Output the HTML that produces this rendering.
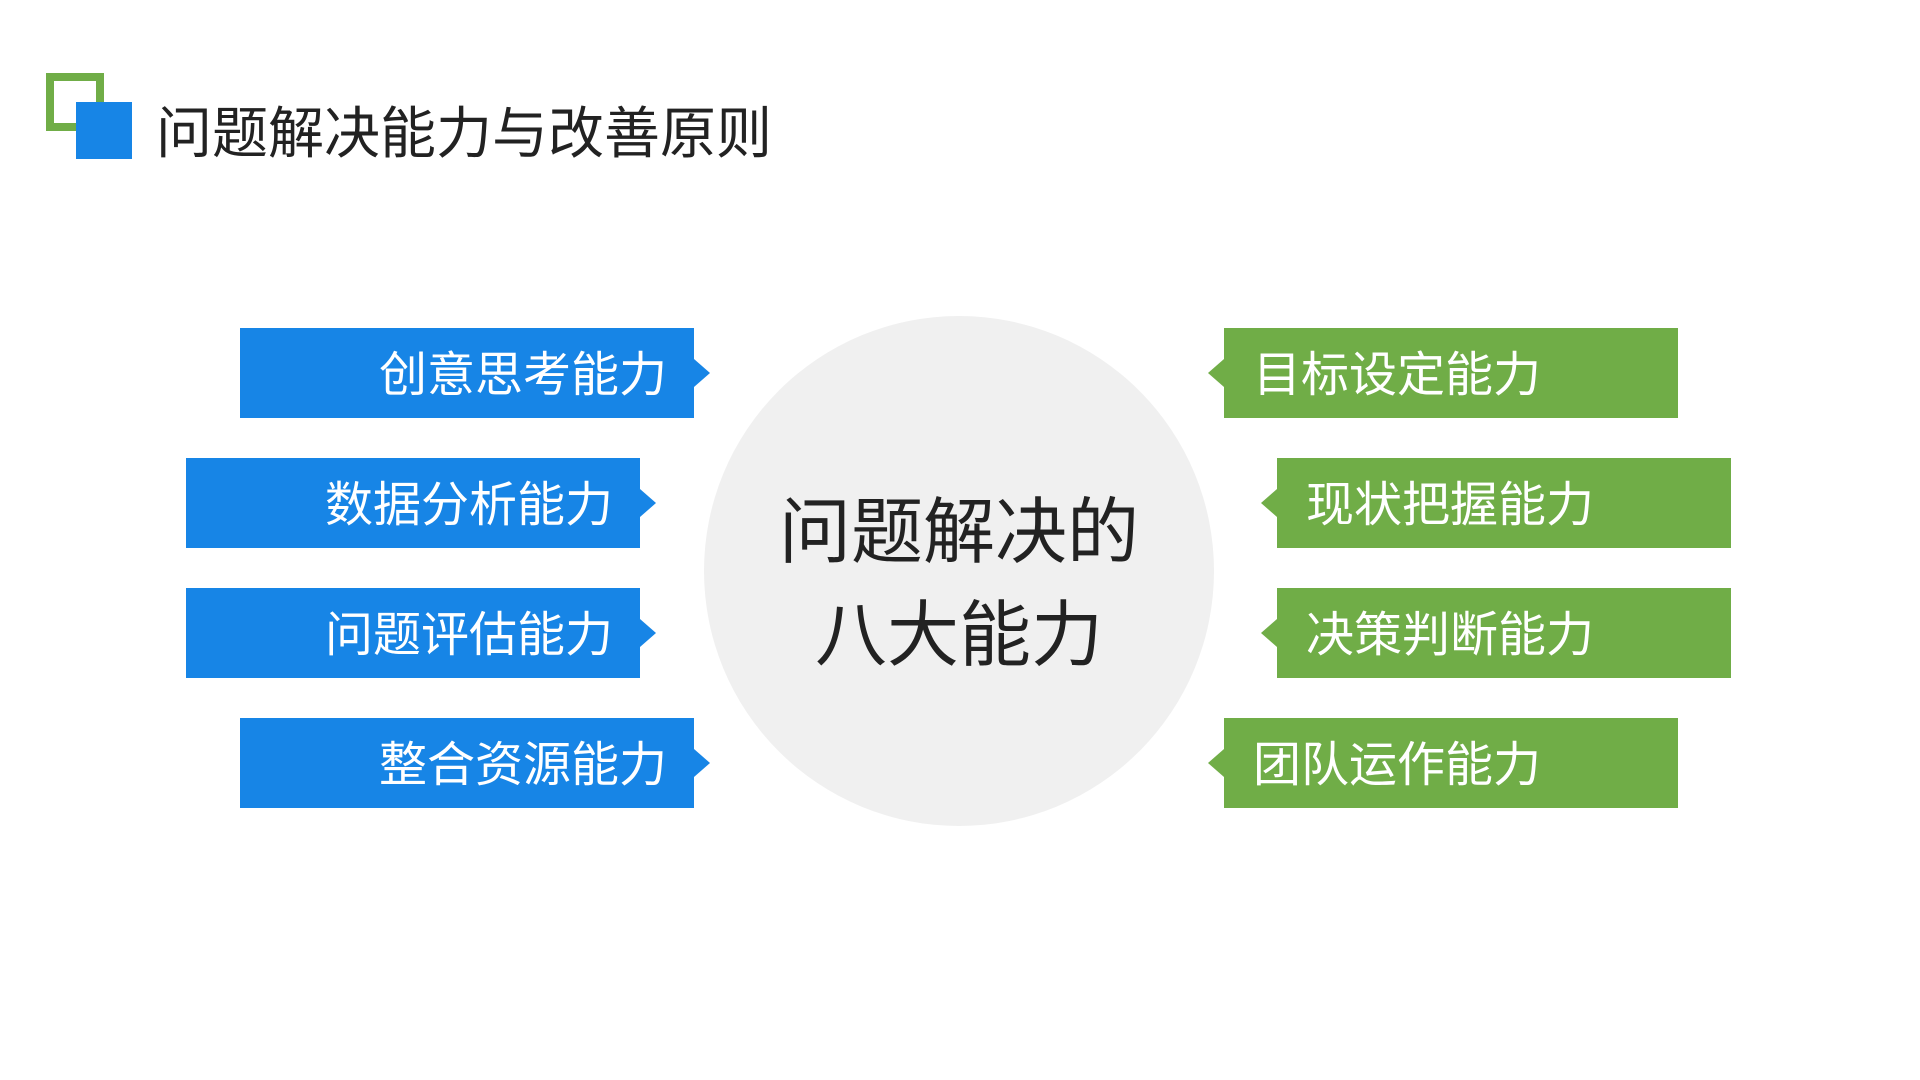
<!DOCTYPE html>
<html><head><meta charset="utf-8"><style>
*{margin:0;padding:0;box-sizing:border-box}
body{width:1920px;height:1080px;background:#fff;position:relative;overflow:hidden;font-family:"Liberation Sans","Noto Sans CJK SC",sans-serif}
.a{position:absolute}
.box{position:absolute;height:90px;color:#fff;font-size:48px;line-height:96px;white-space:nowrap}
.L{background:#1785e6;text-align:right;padding-right:27px}
.R{background:#70ad47;text-align:left;padding-left:29px}
.L::after{content:"";position:absolute;right:-16px;top:31px;border-left:16px solid #1785e6;border-top:14px solid transparent;border-bottom:14px solid transparent}
.R::before{content:"";position:absolute;left:-16px;top:31px;border-right:16px solid #70ad47;border-top:14px solid transparent;border-bottom:14px solid transparent}
</style></head><body>
<div class="a" style="left:46px;top:73px;width:58px;height:58px;border:8px solid #70ad47"></div>
<div class="a" style="left:76px;top:102px;width:56px;height:57px;background:#1785e6"></div>
<div class="a" style="left:156px;top:99px;font-size:56px;line-height:70px;color:#222;white-space:nowrap">问题解决能力与改善原则</div>
<div class="a" style="left:704px;top:316px;width:510px;height:510px;border-radius:50%;background:#f0f0f0"></div>
<div class="a" style="left:704px;top:482px;width:510px;text-align:center;font-size:72px;line-height:103px;color:#222">问题解决的<br>八大能力</div>
<div class="box L" style="left:240px;top:328px;width:454px">创意思考能力</div>
<div class="box L" style="left:186px;top:458px;width:454px">数据分析能力</div>
<div class="box L" style="left:186px;top:588px;width:454px">问题评估能力</div>
<div class="box L" style="left:240px;top:718px;width:454px">整合资源能力</div>
<div class="box R" style="left:1224px;top:328px;width:454px">目标设定能力</div>
<div class="box R" style="left:1277px;top:458px;width:454px">现状把握能力</div>
<div class="box R" style="left:1277px;top:588px;width:454px">决策判断能力</div>
<div class="box R" style="left:1224px;top:718px;width:454px">团队运作能力</div>
</body></html>
